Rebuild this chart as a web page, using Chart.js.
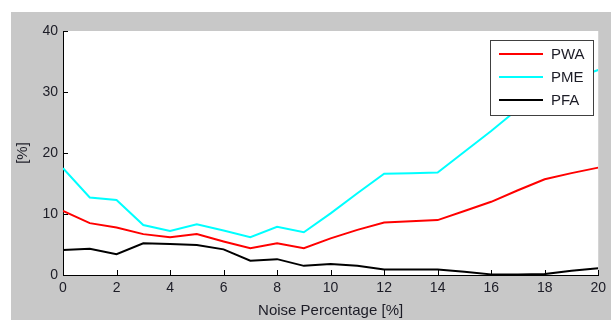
<!DOCTYPE html>
<html>
<head>
<meta charset="utf-8">
<script src="https://cdn.jsdelivr.net/npm/chart.js@4/dist/chart.umd.min.js"></script>
<style>
  html, body { margin: 0; padding: 0; background: #ffffff; }
  #wrap { width: 611px; height: 320px; }
</style>
</head>
<body>
<div id="wrap"><canvas id="c" width="611" height="320"></canvas></div>
<script>
// Noise level on the x axis (percent)
const noise = [0, 1, 2, 3, 4, 5, 6, 7, 8, 9, 10, 11, 12, 13, 14, 15, 16, 17, 18, 19, 20];
// Error rates (percent) per noise level
const pwa = [10.5, 8.5, 7.8, 6.7, 6.2, 6.7, 5.5, 4.4, 5.2, 4.4, 6.0, 7.4, 8.6, 8.8, 9.0, 10.5, 12.0, 13.9, 15.7, 16.7, 17.6];
const pme = [17.5, 12.7, 12.3, 8.2, 7.2, 8.3, 7.3, 6.2, 7.9, 7.0, 10.1, 13.4, 16.6, 16.7, 16.8, 20.2, 23.6, 27.2, 30.5, 32.1, 33.6];
const pfa = [4.1, 4.3, 3.4, 5.2, 5.1, 4.9, 4.2, 2.35, 2.6, 1.5, 1.8, 1.5, 0.9, 0.9, 0.9, 0.55, 0.1, 0.1, 0.15, 0.7, 1.1];
const xTicks = [0, 2, 4, 6, 8, 10, 12, 14, 16, 18, 20];
const yTicks = [0, 10, 20, 30, 40];

const FONT = "'Liberation Sans', Arial, sans-serif";
const TEXT = '#1c1c26';

const pts = arr => noise.map((x, i) => ({ x: x, y: arr[i] }));

// Figure background, white axes area, inward tick marks and the boxed legend
const frame = {
  id: 'frame',
  beforeDraw(chart) {
    const ctx = chart.ctx, a = chart.chartArea;
    ctx.save();
    ctx.fillStyle = '#ffffff';
    ctx.fillRect(0, 0, chart.width, chart.height);
    ctx.fillStyle = '#c8c8c8';
    ctx.fillRect(11, 12, chart.width - 11, chart.height - 12);
    ctx.fillStyle = '#ffffff';
    ctx.fillRect(a.left, a.top, a.right - a.left, a.bottom - a.top);
    ctx.restore();
  },
  afterDraw(chart) {
    const ctx = chart.ctx, a = chart.chartArea;
    const xs = chart.scales.x, ys = chart.scales.y;
    ctx.save();
    ctx.strokeStyle = '#000000';
    ctx.lineWidth = 1;
    ctx.beginPath();
    xTicks.forEach(v => {
      const px = Math.round(xs.getPixelForValue(v)) + 0.5;
      ctx.moveTo(px, a.bottom);
      ctx.lineTo(px, a.bottom - 5);
    });
    yTicks.forEach(v => {
      const py = Math.round(ys.getPixelForValue(v)) + 0.5;
      ctx.moveTo(a.left, py);
      ctx.lineTo(a.left + 5, py);
    });
    ctx.stroke();

    // legend
    const bx = 490.5, by = 40.5, bw = 103, bh = 75;
    ctx.fillStyle = '#ffffff';
    ctx.fillRect(bx, by, bw, bh);
    ctx.strokeStyle = '#404040';
    ctx.lineWidth = 1;
    ctx.strokeRect(bx, by, bw, bh);
    ctx.font = '15px ' + FONT;
    ctx.textBaseline = 'middle';
    ctx.textAlign = 'left';
    chart.data.datasets.forEach((ds, i) => {
      const y = 54 + i * 23;
      ctx.strokeStyle = ds.borderColor;
      ctx.lineWidth = 2;
      ctx.beginPath();
      ctx.moveTo(499, y);
      ctx.lineTo(543, y);
      ctx.stroke();
      ctx.fillStyle = TEXT;
      ctx.fillText(ds.label, 551, y + 1);
    });
    ctx.restore();
  }
};

new Chart(document.getElementById('c'), {
  type: 'line',
  data: {
    datasets: [
      { label: 'PWA', data: pts(pwa), borderColor: '#ff0000', borderWidth: 2, pointRadius: 0, tension: 0 },
      { label: 'PME', data: pts(pme), borderColor: '#00ffff', borderWidth: 2, pointRadius: 0, tension: 0 },
      { label: 'PFA', data: pts(pfa), borderColor: '#000000', borderWidth: 2, pointRadius: 0, tension: 0 }
    ]
  },
  options: {
    responsive: false,
    devicePixelRatio: 1,
    animation: false,
    layout: { padding: { top: 31, right: 11, left: 0, bottom: 0 } },
    plugins: { legend: { display: false }, tooltip: { enabled: false } },
    scales: {
      x: {
        type: 'linear',
        min: 0, max: 20,
        afterBuildTicks(scale) { scale.ticks = xTicks.map(v => ({ value: v })); },
        afterFit(scale) { scale.height = 45; },
        grid: { display: false, drawTicks: false },
        border: { display: true, color: '#000000', width: 1 },
        ticks: { color: TEXT, font: { family: FONT, size: 14 }, padding: 5, maxRotation: 0 },
        title: { display: true, text: 'Noise Percentage [%]', color: TEXT, font: { family: FONT, size: 15 }, padding: 0 }
      },
      y: {
        type: 'linear',
        min: 0, max: 40,
        afterBuildTicks(scale) { scale.ticks = yTicks.map(v => ({ value: v })); },
        afterFit(scale) { scale.width = 63; },
        grid: { display: false, drawTicks: false },
        border: { display: true, color: '#000000', width: 1 },
        ticks: { color: TEXT, font: { family: FONT, size: 14 }, padding: 5 },
        title: { display: true, text: '[%]', color: TEXT, font: { family: FONT, size: 15 }, padding: { top: 14, bottom: 0 } }
      }
    }
  },
  plugins: [frame]
});
</script>
</body>
</html>
